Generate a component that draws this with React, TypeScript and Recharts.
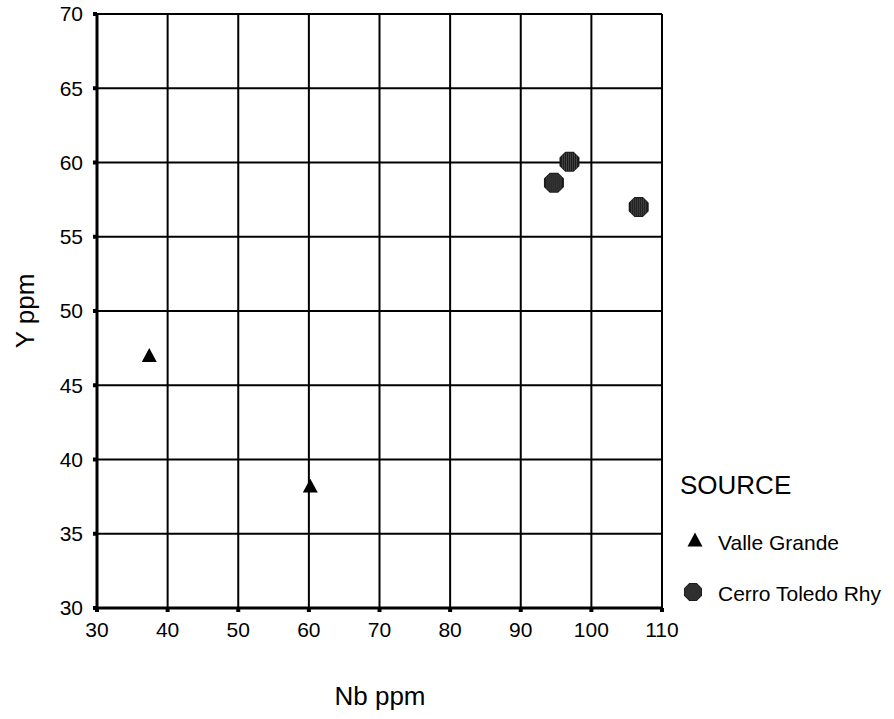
import React from 'react';
import { ScatterChart, Scatter, XAxis, YAxis, CartesianGrid, Label } from 'recharts';

const valleGrande = [
  { nb: 37.4, y: 47.0 },
  { nb: 60.2, y: 38.2 },
];
const cerroToledo = [
  { nb: 96.9, y: 60.05 },
  { nb: 94.7, y: 58.64 },
  { nb: 106.7, y: 57.0 },
];
const xTicks = [30, 40, 50, 60, 70, 80, 90, 100, 110];
const yTicks = [30, 35, 40, 45, 50, 55, 60, 65, 70];
const legendTitle = 'SOURCE';
const seriesNames = ['Valle Grande', 'Cerro Toledo Rhy'];
const xTitle = 'Nb ppm';
const yTitle = 'Y ppm';

const FONT = 'Liberation Sans, Arial, sans-serif';

const Triangle = (props: any) => {
  const { cx, cy } = props;
  const s = 7.5;
  return (
    <polygon
      points={`${cx},${cy - s} ${cx - s},${cy + s * 0.85} ${cx + s},${cy + s * 0.85}`}
      fill="#000"
    />
  );
};

const Octagon = (props: any) => {
  const { cx, cy } = props;
  const r = props.r ?? 10;
  const a = r * 0.42;
  const pts = [
    [cx - a, cy - r], [cx + a, cy - r], [cx + r, cy - a], [cx + r, cy + a],
    [cx + a, cy + r], [cx - a, cy + r], [cx - r, cy + a], [cx - r, cy - a],
  ].map((p) => p.join(',')).join(' ');
  const lines = [];
  for (let i = -7; i <= 7; i += 2) {
    if (Math.abs(i) >= r) continue;
    const h = Math.abs(i) > a ? r - (Math.abs(i) - a) : r;
    lines.push(
      <line key={i} x1={cx + i} x2={cx + i} y1={cy - h + 1} y2={cy + h - 1} stroke="#555" strokeWidth={0.7} />
    );
  }
  return (
    <g>
      <polygon points={pts} fill="#1c1c1c" />
      {lines}
    </g>
  );
};

const LegendBox = () => (
  <svg
    width={214}
    height={150}
    style={{ position: 'absolute', left: 680, top: 460 }}
    viewBox="680 460 214 150"
  >
    <text x={680} y={494} fontSize={26} fontFamily={FONT} fill="#000">{legendTitle}</text>
    <Triangle cx={695} cy={540} />
    <text x={718} y={550} fontSize={21} fontFamily={FONT} fill="#000">{seriesNames[0]}</text>
    <Octagon cx={693} cy={592} r={9} />
    <text x={718} y={601} fontSize={21} fontFamily={FONT} fill="#000">{seriesNames[1]}</text>
  </svg>
);

export default function App() {
  return (
    <div style={{ position: 'absolute', left: 0, top: 0, width: 894, height: 719, background: '#fff' }}>
      <ScatterChart
        width={894}
        height={719}
        margin={{ top: 14, left: 37, right: 232, bottom: 81 }}
      >
        <CartesianGrid stroke="#000" strokeWidth={2} horizontalValues={yTicks} verticalValues={xTicks} />
        <XAxis
          type="number"
          dataKey="nb"
          domain={[30, 110]}
          ticks={xTicks}
          interval={0}
          height={30}
          axisLine={{ stroke: '#000', strokeWidth: 3 }}
          tickLine={{ stroke: '#000', strokeWidth: 4 }}
          tickSize={4}
          tickMargin={10}
          tick={{ fill: '#000', fontSize: 21, fontFamily: FONT }}
          allowDataOverflow
        >
          <Label
            content={() => (
              <text x={380} y={705} textAnchor="middle" fontSize={26} fontFamily={FONT} fill="#000">
                {xTitle}
              </text>
            )}
          />
        </XAxis>
        <YAxis
          type="number"
          dataKey="y"
          domain={[30, 70]}
          ticks={yTicks}
          interval={0}
          width={60}
          axisLine={{ stroke: '#000', strokeWidth: 3 }}
          tickLine={{ stroke: '#000', strokeWidth: 4 }}
          tickSize={4}
          tickMargin={10}
          tick={{ fill: '#000', fontSize: 21, fontFamily: FONT }}
          allowDataOverflow
        >
          <Label
            content={() => (
              <text
                x={34}
                y={311}
                textAnchor="middle"
                fontSize={26}
                fontFamily={FONT}
                fill="#000"
                transform="rotate(-90 34 311)"
              >
                {yTitle}
              </text>
            )}
          />
        </YAxis>
        <Scatter name={seriesNames[0]} data={valleGrande} shape={<Triangle />} isAnimationActive={false} />
        <Scatter name={seriesNames[1]} data={cerroToledo} shape={<Octagon />} isAnimationActive={false} />
      </ScatterChart>
      <LegendBox />
    </div>
  );
}
